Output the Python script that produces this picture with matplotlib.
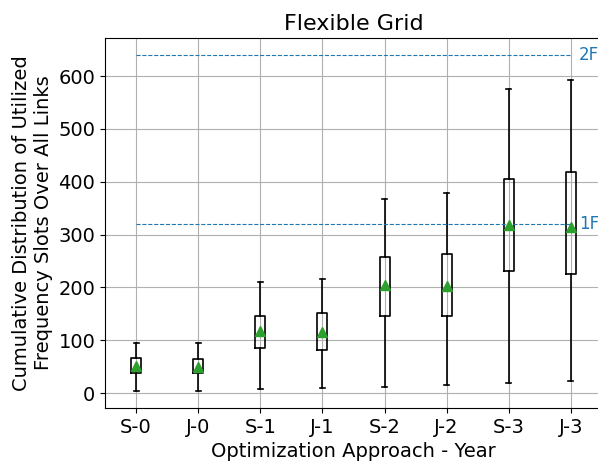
import matplotlib
matplotlib.use('Agg')
import matplotlib.pyplot as plt

# Box statistics (slots).
labels = ['S-0', 'J-0', 'S-1', 'J-1', 'S-2', 'J-2', 'S-3', 'J-3']
whis_lo = [4, 4, 8, 9, 12, 16, 19, 23]
q1 = [39, 39, 86, 82, 146, 146, 232, 226]
q3 = [66, 64, 146, 151, 258, 263, 406, 419]
whis_hi = [95, 94, 211, 216, 367, 379, 576, 593]
means = [51, 50, 117, 116, 204, 202, 318, 315]

# Frequency reference lines.
f_levels = [320, 640]
f_labels = ['1F', '2F']

stats = []
for i in range(len(labels)):
    stats.append({'label': labels[i], 'whislo': whis_lo[i], 'q1': q1[i],
                  'med': (q1[i] + q3[i]) / 2, 'q3': q3[i],
                  'whishi': whis_hi[i], 'mean': means[i]})

fig = plt.figure(figsize=(5.98, 4.61), dpi=100)
ax = fig.add_axes([0.1756, 0.115, 0.831, 0.8026])

positions = list(range(1, len(labels) + 1))
ax.bxp(stats, positions=positions, widths=0.16, showmeans=True, showfliers=False,
       boxprops=dict(color='black', linewidth=1.2),
       whiskerprops=dict(color='black', linewidth=1.2),
       capprops=dict(color='black', linewidth=1.2),
       medianprops=dict(linewidth=0),
       meanprops=dict(marker='^', markerfacecolor='#2ca02c',
                      markeredgecolor='#2ca02c', markersize=7))

for lvl, lab in zip(f_levels, f_labels):
    ax.hlines(lvl, positions[0], positions[-1], colors='C0', linestyles='--', linewidth=0.8)
    ax.text(positions[-1] + 0.13, lvl, lab, color='C0', fontsize=12, va='center', ha='left')

ax.set_xlim(0.5, 8.5)
ax.set_ylim(-28, 672)
ax.set_yticks([0, 100, 200, 300, 400, 500, 600])
ax.grid(True)
ax.set_axisbelow(True)
ax.tick_params(labelsize=14)
ax.set_title('Flexible Grid', fontsize=16)
ax.set_xlabel('Optimization Approach - Year', fontsize=14)
ax.set_ylabel('Cumulative Distribution of Utilized\nFrequency Slots Over All Links', fontsize=14)

plt.savefig('out.png', dpi=100)
